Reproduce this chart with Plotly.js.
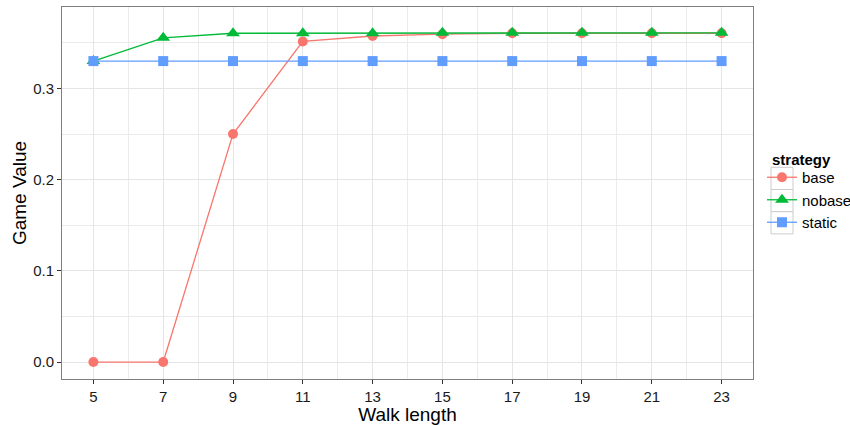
<!DOCTYPE html>
<html>
<head>
<meta charset="utf-8">
<script src="https://cdn.plot.ly/plotly-3.0.1.min.js"></script>
<style>
  html, body { margin: 0; padding: 0; background: #fff; }
  #chart { width: 850px; height: 425px; }
</style>
</head>
<body>
<div id="chart"></div>
<script>
// Walk lengths on the x axis
const walkLength = [5, 7, 9, 11, 13, 15, 17, 19, 21, 23];

// Game value per strategy
const baseValues   = [0.000, 0.000, 0.250, 0.3515, 0.3575, 0.3595, 0.3605, 0.3605, 0.3605, 0.3605];
const nobaseValues = [0.330, 0.3555, 0.3605, 0.3605, 0.3605, 0.361, 0.361, 0.361, 0.361, 0.361];
const staticValues = [0.330, 0.330, 0.330, 0.330, 0.330, 0.330, 0.330, 0.330, 0.330, 0.330];

const strategyNames = ['base', 'nobase', 'static'];
const legendTitle = 'strategy';
const xTicks = [5, 7, 9, 11, 13, 15, 17, 19, 21, 23];
const yTicks = [0.0, 0.1, 0.2, 0.3];
const yTickText = ['0.0', '0.1', '0.2', '0.3'];

const FONT = 'Liberation Sans, Arial, Helvetica, sans-serif';

// Plot panel in pixels (used to place the legend key frames)
const W = 850, H = 425;
const M = { l: 62, r: 97, t: 7, b: 46 };
const panelW = W - M.l - M.r, panelH = H - M.t - M.b;
const px2x = p => (p - M.l) / panelW;
const px2y = p => (H - M.b - p) / panelH;

function series(name, y, color, symbol, size) {
  return {
    type: 'scatter',
    mode: 'lines+markers',
    name: name,
    x: walkLength,
    y: y,
    line: { color: color, width: 1.3 },
    marker: { color: color, symbol: symbol, size: size, line: { width: 0 } }
  };
}

const traces = [
  series(strategyNames[0], baseValues, '#F8766D', 'circle', 10),
  series(strategyNames[1], nobaseValues, '#00BA38', 'triangle-up', 12),
  series(strategyNames[2], staticValues, '#619CFF', 'square', 10)
];

// grey frames around each legend key
const keyTop = 167.3, keyH = 22.2;
const keyShapes = strategyNames.map((_, i) => ({
  type: 'rect', xref: 'paper', yref: 'paper', layer: 'below',
  x0: px2x(771), x1: px2x(793),
  y0: px2y(keyTop + i * keyH), y1: px2y(keyTop + (i + 1) * keyH),
  line: { color: '#cccccc', width: 1 },
  fillcolor: '#ffffff'
}));

const layout = {
  width: W,
  height: H,
  margin: M,
  paper_bgcolor: '#ffffff',
  plot_bgcolor: '#ffffff',
  font: { family: FONT, size: 15, color: '#1a1a1a' },
  showlegend: true,
  xaxis: {
    range: [4.1, 23.9],
    tickmode: 'array',
    tickvals: xTicks,
    ticktext: xTicks.map(String),
    ticks: 'outside',
    ticklen: 4,
    tickwidth: 1,
    tickcolor: '#333333',
    tickfont: { family: FONT, size: 15, color: '#1a1a1a' },
    showgrid: true,
    gridcolor: '#e5e5e5',
    gridwidth: 1,
    minor: { tickmode: 'array', tickvals: [6, 8, 10, 12, 14, 16, 18, 20, 22], showgrid: true, gridcolor: '#ebebeb', gridwidth: 1, ticks: '' },
    zeroline: false,
    showline: true,
    linecolor: '#7f7f7f',
    linewidth: 1,
    mirror: true,
    title: { text: 'Walk length', font: { family: FONT, size: 19, color: '#000' }, standoff: 0 }
  },
  yaxis: {
    range: [-0.0186, 0.3893],
    tickmode: 'array',
    tickvals: yTicks,
    ticktext: yTickText,
    ticks: 'outside',
    ticklen: 4,
    tickwidth: 1,
    tickcolor: '#333333',
    tickfont: { family: FONT, size: 15, color: '#1a1a1a' },
    showgrid: true,
    gridcolor: '#e5e5e5',
    gridwidth: 1,
    minor: { tickmode: 'array', tickvals: [0.05, 0.15, 0.25, 0.35], showgrid: true, gridcolor: '#ebebeb', gridwidth: 1, ticks: '' },
    zeroline: false,
    showline: true,
    linecolor: '#7f7f7f',
    linewidth: 1,
    mirror: true,
    title: { text: 'Game Value', font: { family: FONT, size: 19, color: '#000' }, standoff: 1 }
  },
  legend: {
    xref: 'container',
    yref: 'container',
    x: 762 / W,
    xanchor: 'left',
    y: 1 - 161 / H,
    yanchor: 'top',
    font: { family: FONT, size: 15, color: '#000' },
    itemwidth: 30,
    tracegroupgap: 0,
    bgcolor: 'rgba(0,0,0,0)',
    borderwidth: 0
  },
  shapes: keyShapes,
  annotations: [{
    text: '<b>' + legendTitle + '</b>',
    xref: 'paper', yref: 'paper',
    x: px2x(770), y: px2y(159),
    xanchor: 'left', yanchor: 'middle',
    showarrow: false,
    font: { family: FONT, size: 15, color: '#000' }
  }]
};

Plotly.newPlot('chart', traces, layout, { displayModeBar: false, staticPlot: true });
</script>
</body>
</html>
